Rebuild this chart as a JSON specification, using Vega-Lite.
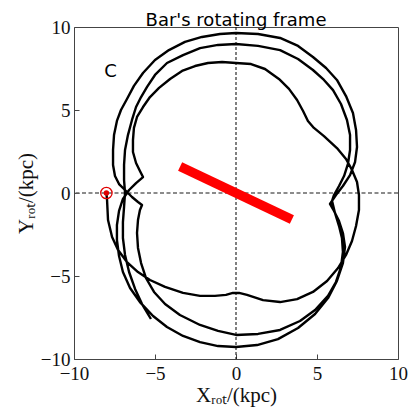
{
  "$schema": "https://vega.github.io/schema/vega-lite/v6.json",
  "autosize": {"type": "none"},
  "padding": {"left": 74, "top": 27, "right": 17, "bottom": 56},
  "width": 324,
  "height": 332,
  "title": {"text": "Bar's rotating frame", "font": "DejaVu Sans", "fontSize": 18, "fontWeight": "normal", "color": "#000", "anchor": "middle", "frame": "group", "offset": 4, "dy": 16},
  "datasets": {
    "orbit": [
      {"o": 1, "x": -8.0, "y": 0.0}, {"o": 2, "x": -7.96, "y": -0.42}, {"o": 3, "x": -7.9, "y": -1.63}, {"o": 4, "x": -7.65, "y": -2.65},
      {"o": 5, "x": -7.28, "y": -3.43}, {"o": 6, "x": -6.73, "y": -4.16}, {"o": 7, "x": -6.05, "y": -4.76}, {"o": 8, "x": -5.31, "y": -5.24},
      {"o": 9, "x": -4.38, "y": -5.66}, {"o": 10, "x": -3.27, "y": -6.02}, {"o": 11, "x": -2.22, "y": -6.2}, {"o": 12, "x": -1.3, "y": -6.2},
      {"o": 13, "x": -0.62, "y": -6.14}, {"o": 14, "x": -0.19, "y": -6.02}, {"o": 15, "x": 0.19, "y": -6.02}, {"o": 16, "x": 0.68, "y": -6.14},
      {"o": 17, "x": 1.67, "y": -6.45}, {"o": 18, "x": 2.72, "y": -6.57}, {"o": 19, "x": 3.77, "y": -6.39}, {"o": 20, "x": 4.75, "y": -5.96},
      {"o": 21, "x": 5.62, "y": -5.3}, {"o": 22, "x": 6.3, "y": -4.52}, {"o": 23, "x": 6.79, "y": -3.73}, {"o": 24, "x": 7.16, "y": -2.89},
      {"o": 25, "x": 7.41, "y": -1.99}, {"o": 26, "x": 7.59, "y": -1.02}, {"o": 27, "x": 7.59, "y": -0.12}, {"o": 28, "x": 7.47, "y": 0.66},
      {"o": 29, "x": 7.16, "y": 1.39}, {"o": 30, "x": 6.79, "y": 2.05}, {"o": 31, "x": 6.23, "y": 2.71}, {"o": 32, "x": 5.43, "y": 3.43},
      {"o": 33, "x": 4.81, "y": 3.92}, {"o": 34, "x": 4.44, "y": 4.34}, {"o": 35, "x": 4.14, "y": 4.94}, {"o": 36, "x": 3.77, "y": 5.6},
      {"o": 37, "x": 3.27, "y": 6.27}, {"o": 38, "x": 2.65, "y": 6.87}, {"o": 39, "x": 1.79, "y": 7.47}, {"o": 40, "x": 0.93, "y": 7.77},
      {"o": 41, "x": 0.0, "y": 7.83}, {"o": 42, "x": -0.86, "y": 7.89}, {"o": 43, "x": -1.73, "y": 7.83}, {"o": 44, "x": -2.53, "y": 7.65},
      {"o": 45, "x": -3.33, "y": 7.35}, {"o": 46, "x": -4.07, "y": 6.87}, {"o": 47, "x": -4.75, "y": 6.33}, {"o": 48, "x": -5.31, "y": 5.78},
      {"o": 49, "x": -5.74, "y": 5.18}, {"o": 50, "x": -6.11, "y": 4.58}, {"o": 51, "x": -6.3, "y": 3.92}, {"o": 52, "x": -6.36, "y": 3.19},
      {"o": 53, "x": -6.36, "y": 2.47}, {"o": 54, "x": -6.17, "y": 1.81}, {"o": 55, "x": -5.93, "y": 1.33}, {"o": 56, "x": -5.74, "y": 0.96},
      {"o": 57, "x": -6.17, "y": 0.6}, {"o": 58, "x": -6.6, "y": 0.18}, {"o": 59, "x": -6.98, "y": -0.36}, {"o": 60, "x": -7.22, "y": -1.08},
      {"o": 61, "x": -7.35, "y": -1.93}, {"o": 62, "x": -7.35, "y": -2.83}, {"o": 63, "x": -7.22, "y": -3.8}, {"o": 64, "x": -6.98, "y": -4.76},
      {"o": 65, "x": -6.54, "y": -5.72}, {"o": 66, "x": -5.93, "y": -6.57}, {"o": 67, "x": -5.12, "y": -7.41}, {"o": 68, "x": -4.26, "y": -8.07},
      {"o": 69, "x": -3.27, "y": -8.61}, {"o": 70, "x": -2.22, "y": -8.98}, {"o": 71, "x": -1.11, "y": -9.22}, {"o": 72, "x": 0.0, "y": -9.28},
      {"o": 73, "x": 1.3, "y": -9.16}, {"o": 74, "x": 2.59, "y": -8.8}, {"o": 75, "x": 3.83, "y": -8.13}, {"o": 76, "x": 4.88, "y": -7.29},
      {"o": 77, "x": 5.68, "y": -6.33}, {"o": 78, "x": 6.23, "y": -5.3}, {"o": 79, "x": 6.6, "y": -4.22}, {"o": 80, "x": 6.73, "y": -3.25},
      {"o": 81, "x": 6.6, "y": -2.41}, {"o": 82, "x": 6.36, "y": -1.69}, {"o": 83, "x": 6.05, "y": -1.08}, {"o": 84, "x": 5.8, "y": -0.66},
      {"o": 85, "x": 6.17, "y": -0.12}, {"o": 86, "x": 6.6, "y": 0.42}, {"o": 87, "x": 7.04, "y": 1.08}, {"o": 88, "x": 7.35, "y": 1.87},
      {"o": 89, "x": 7.47, "y": 2.77}, {"o": 90, "x": 7.41, "y": 3.8}, {"o": 91, "x": 7.22, "y": 4.82}, {"o": 92, "x": 6.79, "y": 5.84},
      {"o": 93, "x": 6.23, "y": 6.81}, {"o": 94, "x": 5.56, "y": 7.53}, {"o": 95, "x": 4.75, "y": 8.19}, {"o": 96, "x": 3.83, "y": 8.86},
      {"o": 97, "x": 2.72, "y": 9.34}, {"o": 98, "x": 1.36, "y": 9.58}, {"o": 99, "x": 0.0, "y": 9.64}, {"o": 100, "x": -0.99, "y": 9.58},
      {"o": 101, "x": -2.1, "y": 9.4}, {"o": 102, "x": -3.15, "y": 9.1}, {"o": 103, "x": -4.14, "y": 8.61}, {"o": 104, "x": -5.0, "y": 8.01},
      {"o": 105, "x": -5.74, "y": 7.23}, {"o": 106, "x": -6.3, "y": 6.45}, {"o": 107, "x": -6.73, "y": 5.66}, {"o": 108, "x": -7.1, "y": 5.0},
      {"o": 109, "x": -7.35, "y": 4.34}, {"o": 110, "x": -7.53, "y": 3.49}, {"o": 111, "x": -7.59, "y": 2.59}, {"o": 112, "x": -7.59, "y": 1.69},
      {"o": 113, "x": -7.47, "y": 1.02}, {"o": 114, "x": -7.22, "y": 0.54}, {"o": 115, "x": -6.85, "y": 0.18}, {"o": 116, "x": -6.42, "y": -0.24},
      {"o": 117, "x": -6.05, "y": -0.54}, {"o": 118, "x": -5.8, "y": -0.72},
      {"o": 119, "x": -5.93, "y": -1.02}, {"o": 120, "x": -6.05, "y": -1.63}, {"o": 121, "x": -6.11, "y": -2.41}, {"o": 122, "x": -6.05, "y": -3.31},
      {"o": 123, "x": -5.86, "y": -4.22}, {"o": 124, "x": -5.56, "y": -5.12}, {"o": 125, "x": -5.06, "y": -5.96}, {"o": 126, "x": -4.38, "y": -6.69},
      {"o": 127, "x": -3.46, "y": -7.35}, {"o": 128, "x": -2.22, "y": -7.95}, {"o": 129, "x": -1.11, "y": -8.31}, {"o": 130, "x": 0.0, "y": -8.55},
      {"o": 131, "x": 1.36, "y": -8.49}, {"o": 132, "x": 2.72, "y": -8.25}, {"o": 133, "x": 3.95, "y": -7.71}, {"o": 134, "x": 4.88, "y": -7.05},
      {"o": 135, "x": 5.68, "y": -6.2}, {"o": 136, "x": 6.17, "y": -5.36}, {"o": 137, "x": 6.48, "y": -4.46}, {"o": 138, "x": 6.6, "y": -3.55},
      {"o": 139, "x": 6.54, "y": -2.71}, {"o": 140, "x": 6.36, "y": -1.99}, {"o": 141, "x": 6.11, "y": -1.2}, {"o": 142, "x": 5.93, "y": -0.48},
      {"o": 143, "x": 6.05, "y": -0.12}, {"o": 144, "x": 6.36, "y": 0.42}, {"o": 145, "x": 6.67, "y": 1.02}, {"o": 146, "x": 6.91, "y": 1.75},
      {"o": 147, "x": 7.04, "y": 2.59}, {"o": 148, "x": 7.04, "y": 3.49}, {"o": 149, "x": 6.85, "y": 4.4}, {"o": 150, "x": 6.48, "y": 5.36},
      {"o": 151, "x": 5.99, "y": 6.2}, {"o": 152, "x": 5.43, "y": 6.81}, {"o": 153, "x": 4.75, "y": 7.41}, {"o": 154, "x": 3.83, "y": 8.07},
      {"o": 155, "x": 2.72, "y": 8.61}, {"o": 156, "x": 1.36, "y": 8.86}, {"o": 157, "x": 0.0, "y": 8.98}, {"o": 158, "x": -1.11, "y": 8.92},
      {"o": 159, "x": -2.22, "y": 8.73}, {"o": 160, "x": -3.27, "y": 8.31}, {"o": 161, "x": -4.26, "y": 7.83}, {"o": 162, "x": -5.0, "y": 7.11},
      {"o": 163, "x": -5.49, "y": 6.39}, {"o": 164, "x": -5.86, "y": 5.78}, {"o": 165, "x": -6.17, "y": 5.18}, {"o": 166, "x": -6.42, "y": 4.4},
      {"o": 167, "x": -6.67, "y": 3.49}, {"o": 168, "x": -6.85, "y": 2.59}, {"o": 169, "x": -6.91, "y": 1.69}, {"o": 170, "x": -6.91, "y": 0.78},
      {"o": 171, "x": -6.85, "y": 0.0}, {"o": 172, "x": -6.91, "y": -0.84}, {"o": 173, "x": -6.98, "y": -1.75}, {"o": 174, "x": -6.98, "y": -2.71},
      {"o": 175, "x": -6.85, "y": -3.73}, {"o": 176, "x": -6.6, "y": -4.76}, {"o": 177, "x": -6.23, "y": -5.78}, {"o": 178, "x": -5.8, "y": -6.69},
      {"o": 179, "x": -5.43, "y": -7.29}, {"o": 180, "x": -5.25, "y": -7.59}
    ],
    "bar": [{"o": 1, "x": -3.45, "y": 1.6}, {"o": 2, "x": 3.45, "y": -1.6}],
    "sun": [{"x": -8.0, "y": 0.0}],
    "label": [{"x": -7.75, "y": 7.3, "t": "C"}],
    "zero": [{"v": 0}]
  },
  "layer": [
    {
      "data": {"name": "zero"},
      "mark": {"type": "rule", "color": "#000", "strokeWidth": 1, "strokeDash": [3, 2]},
      "encoding": {"x": {"field": "v", "type": "quantitative", "scale": {"domain": [-10, 10], "nice": false, "zero": false}}}
    },
    {
      "data": {"name": "zero"},
      "mark": {"type": "rule", "color": "#666", "strokeWidth": 1.5, "strokeDash": [4, 2.5]},
      "encoding": {"y": {"field": "v", "type": "quantitative", "scale": {"domain": [-10, 10], "nice": false, "zero": false}}}
    },
    {
      "data": {"name": "orbit"},
      "mark": {"type": "line", "color": "#000", "strokeWidth": 2.4, "strokeJoin": "round"},
      "encoding": {
        "x": {"field": "x", "type": "quantitative", "scale": {"domain": [-10, 10], "nice": false, "zero": false},
              "axis": {"values": [-10, -5, 0, 5, 10], "title": "Xᵣₒₜ/(kpc)", "labelFlush": false, "labelPadding": 10, "titlePadding": 1, "labelExpr": "datum.value < 0 ? '−' + abs(datum.value) : '' + datum.value"}},
        "y": {"field": "y", "type": "quantitative", "scale": {"domain": [-10, 10], "nice": false, "zero": false},
              "axis": {"values": [-10, -5, 0, 5, 10], "title": "Yᵣₒₜ/(kpc)", "labelFlush": false, "labelExpr": "datum.value < 0 ? '−' + abs(datum.value) : '' + datum.value"}},
        "order": {"field": "o", "type": "quantitative"}
      }
    },
    {
      "data": {"name": "bar"},
      "mark": {"type": "line", "color": "#ff0000", "strokeWidth": 9.5, "strokeCap": "butt"},
      "encoding": {
        "x": {"field": "x", "type": "quantitative"},
        "y": {"field": "y", "type": "quantitative"},
        "order": {"field": "o", "type": "quantitative"}
      }
    },
    {
      "data": {"name": "sun"},
      "mark": {"type": "point", "shape": "circle", "filled": false, "stroke": "#e00000", "strokeWidth": 1.3, "size": 130, "opacity": 1},
      "encoding": {"x": {"field": "x", "type": "quantitative"}, "y": {"field": "y", "type": "quantitative"}}
    },
    {
      "data": {"name": "sun"},
      "mark": {"type": "point", "shape": "circle", "filled": true, "color": "#e00000", "size": 30, "opacity": 1},
      "encoding": {"x": {"field": "x", "type": "quantitative"}, "y": {"field": "y", "type": "quantitative"}}
    },
    {
      "data": {"name": "label"},
      "mark": {"type": "text", "font": "DejaVu Sans", "fontSize": 18, "color": "#000", "align": "center", "baseline": "middle"},
      "encoding": {"x": {"field": "x", "type": "quantitative"}, "y": {"field": "y", "type": "quantitative"}, "text": {"field": "t"}}
    }
  ],
  "config": {
    "view": {"stroke": "#444", "strokeWidth": 1},
    "axis": {
      "grid": false, "domain": false,
      "labelFont": "Liberation Serif", "labelFontSize": 19, "labelColor": "#111",
      "tickColor": "#444", "tickSize": -5, "tickWidth": 1, "labelPadding": 9,
      "titleFont": "Liberation Serif", "titleFontSize": 21, "titleFontWeight": "normal", "titleColor": "#111", "titlePadding": 4
    }
  }
}
